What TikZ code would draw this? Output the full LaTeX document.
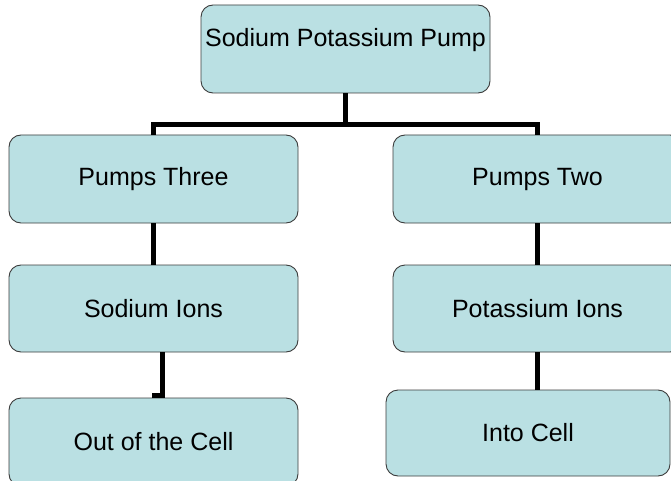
\documentclass[tikz,border=0pt]{standalone}
\usepackage{fontspec}
\setmainfont{Liberation Sans}
\definecolor{boxfill}{RGB}{186,224,227}
\definecolor{boxline}{RGB}{60,60,60}
\begin{document}
\begin{tikzpicture}[x=1pt,y=-1pt,
  box/.style={draw=boxline,line width=0.9pt,fill=boxfill,rounded corners=12pt,
    rectangle,minimum width=289pt,minimum height=88pt,inner sep=0pt,
    font=\fontsize{25}{30}\selectfont},
  conn/.style={draw=black,line width=5pt,line join=miter}]
\path[use as bounding box] (0,0) rectangle (671,481);
\clip (0,0) rectangle (671,481);
\node[box,text height=18pt,text depth=22pt] (top) at (345.5,49) {Sodium Potassium Pump};
\node[box] (pt3) at (153.5,179) {Pumps Three};
\node[box,minimum height=87pt] (si) at (153.5,308.5) {Sodium Ions};
\node[box] (out) at (153.5,442) {Out of the Cell};
\node[box] (p2) at (537.5,179) {Pumps Two};
\node[box,minimum height=87pt] (pi) at (537.5,308.5) {Potassium Ions};
\node[box,minimum width=284pt,minimum height=86pt] (ic) at (528,433) {Into Cell};
\draw[conn] (top.south) -- ++(0,31.5);
\draw[conn] (pt3.north) -- ++(0,-10.5) -| (p2.north);
\draw[conn] (pt3.south) -- (si.north);
\draw[conn] ([xshift=8.5pt]si.south) -- ++(0,43.5) -- ++(-10,0);
\draw[conn] (p2.south) -- (pi.north);
\draw[conn] (pi.south) -- (pi.south |- ic.north);
\end{tikzpicture}
\end{document}
